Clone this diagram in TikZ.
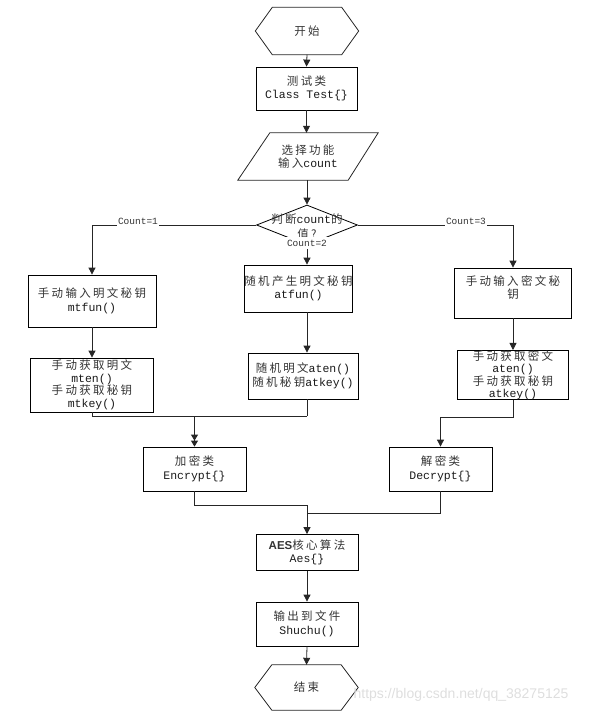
\documentclass[tikz,border=0pt]{standalone}
\usepackage{fontspec}
\setmainfont{Noto Sans CJK SC}[LetterSpace=20]
\setmonofont{Liberation Mono}
\newfontfamily\wmfont{Liberation Sans}
\newfontfamily\latinfont{Liberation Sans}
\usetikzlibrary{arrows.meta,shapes.geometric,calc}
\newcommand\cd[1]{{\ttfamily\fontsize{11.5}{13.5}\selectfont\color{black!90}#1}}
\begin{document}
\begin{tikzpicture}[x=1pt,y=-1pt,
 every node/.style={font=\fontsize{11.5}{13.5}\selectfont, text=black!80},
 box/.style={draw=black, line width=0.8pt, inner sep=0pt, align=center},
 shapeonly/.style={inner sep=0pt, align=center},
 line/.style={draw=black!85, line width=0.8pt},
 arr/.style={line, -{Triangle[length=7pt,width=7pt]}},
 arrtwo/.style={line, -{Triangle[length=6pt,width=7pt] Triangle[length=6pt,width=7pt]}},
 cnt/.style={font=\ttfamily\fontsize{9.5}{11}\selectfont, fill=white, inner sep=1.5pt, minimum height=12pt}]
\useasboundingbox (0,0) rectangle (592,716);

% start
\node[shapeonly, minimum width=103pt, minimum height=47pt] (start) at (307,31) {开始};
\draw[line] (start.west) -- ([xshift=17pt]start.north west) -- ([xshift=-17pt]start.north east) -- (start.east) -- ([xshift=-17pt]start.south east) -- ([xshift=17pt]start.south west) -- cycle;

\node[box, minimum width=101pt, minimum height=43pt] (test) at (306.5,88.5) {测试类\\\cd{Class Test\{\}}};

\node[shapeonly, minimum width=140pt, minimum height=47pt] (input) at (308,156.5) {选择功能\\输入\cd{count}};
\draw[line] (input.south west) -- ([xshift=32pt]input.north west) -- (input.north east) -- ([xshift=-30pt]input.south east) -- cycle;

\node[diamond, draw=black, line width=0.8pt, minimum width=101pt, minimum height=40pt, inner sep=0pt] (dec) at (307,225) {};
\node[align=center, font=\fontsize{11.5}{15}\selectfont] (dect) at (307,226.5) {判断\cd{count}的\\值?};

% left column
\node[box, minimum width=128pt, minimum height=52pt] (L1) at (92,301) {手动输入明文秘钥\\\cd{mtfun()}};
\node[box, minimum width=123pt, minimum height=54pt, font=\fontsize{11.5}{12.5}\selectfont] (L2) at (92,385) {手动获取明文\\\cd{mten()}\\手动获取秘钥\\\cd{mtkey()}};

% middle column
\node[box, minimum width=107pt, minimum height=47pt] (M1) at (298.5,288.5) {随机产生明文秘钥\\\cd{atfun()}};
\node[box, minimum width=110pt, minimum height=46pt] (M2) at (303,376) {随机明文\cd{aten()}\\随机秘钥\cd{atkey()}};

% right column
\node[box, minimum width=117pt, minimum height=50pt] (R1) at (513,293) {};
\node[align=center] (R1t) at (513,287.5) {手动输入密文秘\\钥};
\node[box, minimum width=111pt, minimum height=46pt, font=\fontsize{11.5}{12}\selectfont] (R2) at (513,375) {手动获取密文\\\cd{aten()}\\手动获取秘钥\\\cd{atkey()}};

\node[box, minimum width=103pt, minimum height=44pt] (Enc) at (194.5,469) {加密类\\\cd{Encrypt\{\}}};
\node[box, minimum width=103pt, minimum height=44pt] (Dec) at (440.5,469) {解密类\\\cd{Decrypt\{\}}};

\node[box, minimum width=102pt, minimum height=36pt] (AES) at (307,552.5) {{\latinfont\bfseries AES}核心算法\\\cd{Aes\{\}}};
\node[box, minimum width=102pt, minimum height=44pt] (Out) at (307,624) {输出到文件\\\cd{Shuchu()}};

\node[shapeonly, minimum width=103pt, minimum height=45pt] (end) at (306.5,687.5) {结束};
\draw[line] (end.west) -- ([xshift=17pt]end.north west) -- ([xshift=-17pt]end.north east) -- (end.east) -- ([xshift=-17pt]end.south east) -- ([xshift=17pt]end.south west) -- cycle;

\node[font=\wmfont\fontsize{14}{14}\selectfont, text=black!13] (wm) at (461,695) {https://blog.csdn.net/qq\_38275125};

% connectors
\draw[arr] (start.south) -- (test.north);
\draw[arr] (test.south) -- (test.south |- input.north);
\draw[arr] (dec.north |- input.south) -- (dec.north);
\draw[arr] (dec.west) -| (L1.north);
\draw[arr] (dec.east) -| (R1.north);
\draw[arr] (dec.south) -- (dec.south |- M1.north);
\draw[arr] (L1.south) -- (L2.north);
\draw[arr] (dec.south |- M1.south) -- (dec.south |- M2.north);
\draw[arr] (R1.south) -- (R2.north);

\coordinate (jl) at (194.5,416);
\coordinate (jm) at (307,416);
\draw[line] (L2.south) |- (jm);
\draw[line] (dec.south |- M2.south) -- (jm);
\draw[arrtwo] (jl) -- (Enc.north);

\coordinate (jr) at (440.5,417);
\draw[line] (R2.south) |- (jr);
\draw[arr] (jr) -- (Dec.north);

\coordinate (je) at (307,505);
\coordinate (jd) at (307,513);
\draw[line] (Enc.south) |- (je);
\draw[line] (Dec.south) |- (jd);
\draw[arr] (je) -- (AES.north);
\draw[arr] (AES.south) -- (Out.north);
\draw[arr] (Out.south) -- (end.north);

% branch labels
\node[cnt] (c1) at (138,221) {Count=1};
\node[cnt] (c3) at (466,221) {Count=3};
\node[cnt] (c2) at (307,243) {Count=2};
\end{tikzpicture}
\end{document}
